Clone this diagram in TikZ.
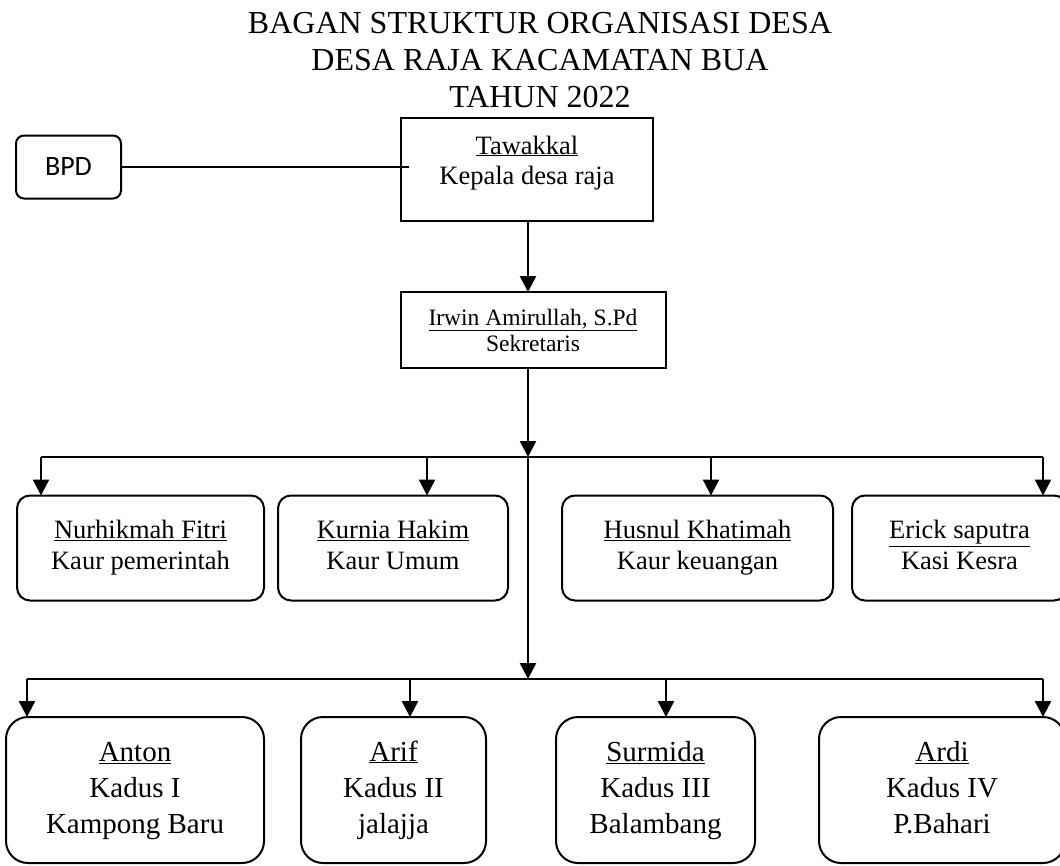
\documentclass[tikz,border=0pt]{standalone}
\usepackage{fontspec}
\setmainfont{Liberation Serif}
\newfontfamily\bpdfont{Carlito}
\usetikzlibrary{arrows.meta}
\begin{document}
\begin{tikzpicture}[x=1pt,y=-1pt,
  every node/.style={inner sep=0pt, outer sep=0pt},
  ttl/.style={font=\fontsize{32}{37}\selectfont, anchor=base},
  sqbox/.style={draw, line width=2pt, align=center},
  bpdbox/.style={draw, line width=2pt, rounded corners=8pt, align=center, font=\bpdfont\fontsize{28}{32}\selectfont},
  rbox/.style={draw, line width=2pt, rounded corners=13pt, align=center, minimum height=105pt, font=\fontsize{26.5}{31}\selectfont},
  kbox/.style={draw, line width=2pt, rounded corners=22pt, align=center, minimum height=146pt, font=\fontsize{29}{36}\selectfont},
  arr/.style={line width=2.5pt, -{Triangle[length=16pt,width=16pt]}},
  bar/.style={line width=2pt}]
\useasboundingbox (0,0) rectangle (1060,865);
\clip (0,0) rectangle (1060,865);
\fill[white] (0,0) rectangle (1060,865);

% title
\node[ttl] (t1) at (540,33) {BAGAN STRUKTUR ORGANISASI DESA};
\node[ttl] (t2) at (540,70) {DESA RAJA KACAMATAN BUA};
\node[ttl] (t3) at (540,107) {TAHUN 2022};

% top boxes
\node[sqbox, minimum width=252pt, minimum height=103pt, font=\fontsize{26.5}{30}\selectfont] (taw) at (527,169.5) {\strut\underline{Tawakkal}\\Kepala desa raja\rule[-22pt]{0pt}{22pt}};
\node[bpdbox, minimum width=105pt, minimum height=63pt] (bpd) at (68.5,167) {BPD};
\node[sqbox, minimum width=265pt, minimum height=76pt, font=\fontsize{23.5}{26}\selectfont] (sek) at (533,330) {\underline{Irwin Amirullah, S.Pd}\\Sekretaris};

% row 1
\node[rbox, minimum width=247pt] (n1) at (140.5,548) {\strut\underline{Nurhikmah Fitri}\\Kaur pemerintah\strut};
\node[rbox, minimum width=230pt] (n2) at (393,548) {\strut\underline{Kurnia Hakim}\\Kaur Umum\strut};
\node[rbox, minimum width=271pt] (n3) at (697.5,548) {\strut\underline{Husnul Khatimah}\\Kaur keuangan\strut};
\node[rbox, minimum width=215pt] (n4) at (959.5,548) {\strut\underline{Erick saputra}\\Kasi Kesra\strut};

% row 2
\node[kbox, minimum width=258pt] (k1) at (135,790) {\strut\underline{Anton}\\Kadus I\\Kampong Baru\strut};
\node[kbox, minimum width=185pt] (k2) at (393.5,790) {\strut\underline{Arif}\\Kadus II\\jalajja\strut};
\node[kbox, minimum width=199pt] (k3) at (655.5,790) {\strut\underline{Surmida}\\Kadus III\\Balambang\strut};
\node[kbox, minimum width=246pt] (k4) at (942,790) {\strut\underline{Ardi}\\Kadus IV\\P.Bahari\strut};

% junction coordinates
\coordinate (bpdend) at (409,167);
\coordinate (j1) at (528,457);
\coordinate (j2) at (528,679);
\coordinate (a1) at (41,457);
\coordinate (a2) at (427,457);
\coordinate (a3) at (711,457);
\coordinate (a4) at (1043,457);
\coordinate (c1) at (27,679);
\coordinate (c2) at (410,679);
\coordinate (c3) at (666,679);
\coordinate (c4) at (1043,679);

% connectors
\draw[bar] (bpd.east) -- (bpdend);
\draw[arr] (taw.south -| j1) -- (sek.north -| j1);
\draw[arr] (sek.south -| j1) -- (j1);
\draw[arr] (j1) -- (j2);
\draw[bar] (a1) -- (a4);
\draw[arr] (a1) -- (a1 |- n1.north);
\draw[arr] (a2) -- (a2 |- n2.north);
\draw[arr] (a3) -- (a3 |- n3.north);
\draw[arr] (a4) -- (a4 |- n4.north);
\draw[bar] (c1) -- (c4);
\draw[arr] (c1) -- (c1 |- k1.north);
\draw[arr] (c2) -- (c2 |- k2.north);
\draw[arr] (c3) -- (c3 |- k3.north);
\draw[arr] (c4) -- (c4 |- k4.north);
\end{tikzpicture}
\end{document}
